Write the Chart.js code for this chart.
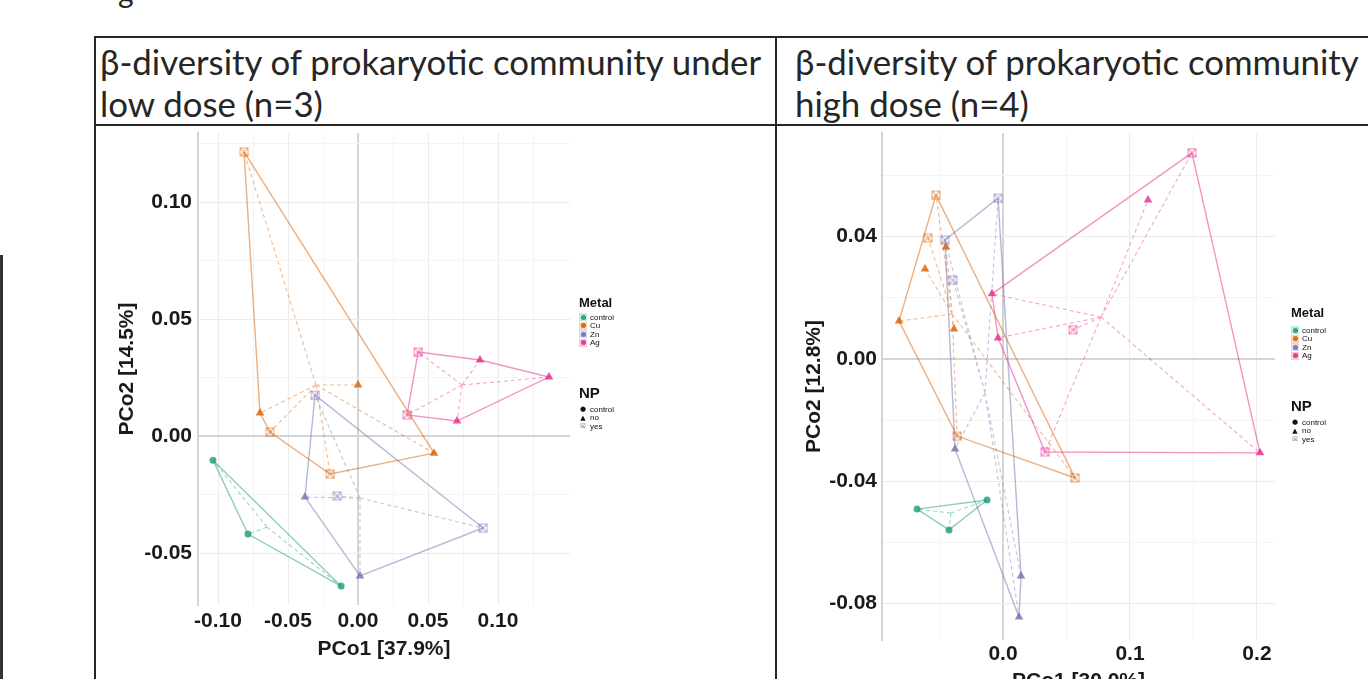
<!DOCTYPE html>
<html lang="en">
<head>
<meta charset="UTF-8">
<title>beta-diversity PCoA</title>
<script src="https://cdn.jsdelivr.net/npm/chart.js"></script>
<style>
  html, body { margin: 0; padding: 0; background: #fff; }
  body { width: 1368px; height: 679px; overflow: hidden; position: relative; }
  .abs { position: absolute; }
  .line { position: absolute; background: #262626; }
  .hd { position: absolute; font-family: Lato, "Open Sans", sans-serif; font-size: 34.8px; line-height: 42px; color: #262626; white-space: nowrap; }
  .leg { position: absolute; font-family: "Liberation Sans", Arial, sans-serif; color: #111; white-space: nowrap; }
  .leg .ttl { font-weight: bold; }
  .leg .row { display: flex; align-items: center; font-size: 8px; height: 8.5px; }
  .leg .key { width: 8px; height: 8px; margin-right: 3px; display: inline-flex; align-items: center; justify-content: center; }
  .leg .dot { width: 5px; height: 5px; border-radius: 50%; }
  .leg .sym { width: 8px; margin-right: 3px; font-size: 7px; text-align: center; font-family: "DejaVu Sans", sans-serif; }
</style>
</head>
<body>

<!-- bits of the page around the table -->
<div class="hd" style="left:118px; top:-30px; font-size:30px;">g</div>
<div class="line" style="left:0; top:255px; width:3px; height:430px; background:#333;"></div>

<!-- table lines -->
<div class="line" style="left:94px; top:36px; width:1280px; height:2px;"></div>
<div class="line" style="left:94px; top:124px; width:1280px; height:2px;"></div>
<div class="line" style="left:94px; top:36px; width:2px; height:660px;"></div>
<div class="line" style="left:775px; top:36px; width:2px; height:660px;"></div>

<div class="hd" style="left:100px; top:41px;">β-diversity of prokaryotic community under<br>low dose (n=3)</div>
<div class="hd" style="left:795px; top:41px;">β-diversity of prokaryotic community under<br>high dose (n=4)</div>

<div class="abs" style="left:100px; top:127px; width:675px; height:552px;"><canvas id="low" width="675" height="552"></canvas></div>
<div class="abs" style="left:777px; top:127px; width:591px; height:600px;"><canvas id="high" width="591" height="600"></canvas></div>

<div class="leg" id="legLow" style="left:579px; top:296px;"></div>
<div class="leg" id="legHigh" style="left:1291px; top:306px;"></div>

<script>
// ---- data ----
const metals = ['control', 'Cu', 'Zn', 'Ag'];
const npLevels = ['control', 'no', 'yes'];

// low dose (n=3)
const lowMetal = ['control','control','control','Cu','Cu','Cu','Cu','Cu','Cu','Zn','Zn','Zn','Zn','Zn','Ag','Ag','Ag','Ag','Ag'];
const lowNP    = ['control','control','control','no','no','no','yes','yes','yes','no','no','yes','yes','yes','no','no','no','yes','yes'];
const lowX = [-0.1036, -0.0786, -0.0121, -0.0700, 0.0000, 0.0543, -0.0814, -0.0629, -0.0200, -0.0379, 0.0014, -0.0307, -0.0150, 0.0893, 0.0871, 0.1364, 0.0707, 0.0429, 0.0350];
const lowY = [-0.0103, -0.0419, -0.0641, 0.0098, 0.0218, -0.0073, 0.1214, 0.0017, -0.0162, -0.0261, -0.0598, 0.0175, -0.0256, -0.0393, 0.0325, 0.0252, 0.0064, 0.0359, 0.0090];
const lowCentX = [-0.065, -0.030, 0.0014, 0.0743];
const lowCentY = [-0.0389, 0.0218, -0.0265, 0.0218];
const lowHulls = [[0, 1, 2], [6, 5, 8, 7, 3], [11, 13, 10, 9], [17, 14, 15, 16, 18]];
const lowXTicks = [-0.10, -0.075, -0.05, -0.025, 0, 0.025, 0.05, 0.075, 0.10, 0.125];
const lowXMajor = [-0.10, -0.05, 0, 0.05, 0.10];
const lowYTicks = [-0.05, -0.025, 0, 0.025, 0.05, 0.075, 0.10, 0.125];
const lowYMajor = [-0.05, 0, 0.05, 0.10];

// high dose (n=4)
const highMetal = ['control','control','control','Cu','Cu','Cu','Cu','Cu','Cu','Cu','Cu','Zn','Zn','Zn','Zn','Zn','Zn','Ag','Ag','Ag','Ag','Ag','Ag','Ag'];
const highNP    = ['control','control','control','no','no','no','no','yes','yes','yes','yes','no','no','no','yes','yes','yes','no','no','no','no','yes','yes','yes'];
const highX = [-0.0677, -0.0425, -0.0126, -0.0819, -0.0614, -0.0449, -0.0386, -0.0528, -0.0591, -0.0362, 0.0567, -0.0378, 0.0142, 0.0126, -0.0039, -0.0457, -0.0394, 0.1142, -0.0087, -0.0039, 0.2024, 0.1488, 0.0551, 0.0331];
const highY = [-0.0491, -0.0559, -0.0461, 0.0124, 0.0294, 0.0366, 0.0098, 0.0536, 0.0396, -0.0252, -0.0389, -0.0294, -0.0710, -0.0844, 0.0526, 0.0389, 0.0258, 0.0520, 0.0213, 0.0069, -0.0307, 0.0674, 0.0095, -0.0304];
const highCentX = [-0.041, -0.040, -0.0142, 0.0772];
const highCentY = [-0.0504, 0.0147, -0.0111, 0.0137];
const highHulls = [[0, 1, 2], [7, 10, 9, 3], [14, 12, 13, 11, 15], [21, 20, 23, 19, 18]];
const highXTicks = [-0.05, 0, 0.05, 0.10, 0.15, 0.20];
const highXMajor = [0, 0.10, 0.20];
const highYTicks = [-0.08, -0.06, -0.04, -0.02, 0, 0.02, 0.04, 0.06];
const highYMajor = [-0.08, -0.04, 0, 0.04];

// ---- styling ----
const metalColors = ['#1B9E77', '#D95F02', '#7570B3', '#E7298A'];
function rgba(hex, a) {
  const n = parseInt(hex.slice(1), 16);
  return 'rgba(' + (n >> 16) + ',' + ((n >> 8) & 255) + ',' + (n & 255) + ',' + a + ')';
}
// square-with-cross marker used for NP = yes
function yesMarker(color, size) {
  const c = document.createElement('canvas');
  c.width = size; c.height = size;
  const g = c.getContext('2d');
  g.strokeStyle = rgba(color, 0.5);
  g.lineWidth = 1.1;
  g.strokeRect(1.5, 1.5, size - 3, size - 3);
  g.beginPath();
  g.moveTo(1.5, 1.5); g.lineTo(size - 1.5, size - 1.5);
  g.moveTo(size - 1.5, 1.5); g.lineTo(1.5, size - 1.5);
  g.stroke();
  return c;
}
const yesMarks = metalColors.map(c => yesMarker(c, 11));

const tickFont = { family: '"Liberation Sans", Arial, sans-serif', size: 21, weight: 'bold' };

function makeDatasets(xs, ys, metal, np, cx, cy, hulls) {
  const hullSets = [], spiderSets = [], pointSets = [];
  metals.forEach((m, k) => {
    const col = metalColors[k];
    const idx = metal.map((v, i) => v === m ? i : -1).filter(i => i >= 0);
    const hull = hulls[k].map(i => ({ x: xs[i], y: ys[i] }));
    hull.push(hull[0]);
    hullSets.push({
      data: hull, showLine: true, borderColor: rgba(col, 0.5), borderWidth: 1.4,
      pointRadius: 0, fill: false, tension: 0
    });
    const spider = [];
    idx.forEach(i => {
      spider.push({ x: cx[k], y: cy[k] }, { x: xs[i], y: ys[i] }, { x: null, y: null });
    });
    spiderSets.push({
      data: spider, showLine: true, borderColor: rgba(col, 0.42), borderWidth: 1.1,
      borderDash: [4, 3], pointRadius: 0, fill: false, spanGaps: false
    });
    pointSets.push({
      data: idx.map(i => ({ x: xs[i], y: ys[i] })),
      pointStyle: idx.map(i => np[i] === 'control' ? 'circle' : np[i] === 'no' ? 'triangle' : yesMarks[k]),
      pointRadius: idx.map(i => np[i] === 'control' ? 3.5 : 5),
      backgroundColor: rgba(col, 0.8),
      borderColor: rgba(col, 0.8),
      borderWidth: 0
    });
  });
  return hullSets.concat(spiderSets, pointSets);
}

function gridColor(ctx) {
  if (!ctx.tick) return 'rgba(0,0,0,0)';
  return ctx.tick.value === 0 ? '#d4d4d4' : (ctx.tick.major2 ? '#ebebeb' : '#f4f4f4');
}

function axis(opts) {
  return {
    type: 'linear', position: opts.pos, min: opts.min, max: opts.max,
    afterBuildTicks: s => { s.ticks = opts.ticks.map(v => ({ value: v, major2: opts.major.includes(v) })); },
    afterFit: s => {
      if (opts.pos === 'left') s.width = opts.size; else s.height = opts.size;
      // no extra room for overflowing labels, the plot box is fixed
      s.paddingTop = 0; s.paddingBottom = 0; s.paddingLeft = 0; s.paddingRight = 0;
    },
    ticks: {
      autoSkip: false, maxRotation: 0, font: tickFont, color: '#1a1a1a', padding: opts.pad,
      callback: v => opts.major.includes(v) ? v.toFixed(opts.dec) : ''
    },
    grid: {
      drawTicks: false,
      color: gridColor,
      lineWidth: ctx => ctx.tick && ctx.tick.value === 0 ? 2 : 1
    },
    border: opts.pos === 'left' ? { display: true, color: '#d4d4d4', width: 2 } : { display: false },
    title: { display: true, text: opts.title, font: tickFont, color: '#1a1a1a', padding: opts.tpad }
  };
}

function makeChart(id, ds, xAxis, yAxis, padding) {
  return new Chart(document.getElementById(id), {
    type: 'scatter',
    data: { datasets: ds },
    options: {
      responsive: false, animation: false,
      layout: { padding: padding },
      plugins: { legend: { display: false }, tooltip: { enabled: false } },
      scales: { x: xAxis, y: yAxis }
    }
  });
}

makeChart('low',
  makeDatasets(lowX, lowY, lowMetal, lowNP, lowCentX, lowCentY, lowHulls),
  axis({ pos: 'bottom', min: -0.1143, max: 0.1514, ticks: lowXTicks, major: lowXMajor, dec: 2, size: 74, pad: 4,
         title: 'PCo1 [37.9%]', tpad: { top: 0, bottom: 17 } }),
  axis({ pos: 'left', min: -0.0722, max: 0.1295, ticks: lowYTicks, major: lowYMajor, dec: 2, size: 98, pad: 6,
         title: 'PCo2 [14.5%]', tpad: { top: 15, bottom: 0 } }),
  { top: 6, right: 205, left: 0, bottom: 0 });

makeChart('high',
  makeDatasets(highX, highY, highMetal, highNP, highCentX, highCentY, highHulls),
  axis({ pos: 'bottom', min: -0.0953, max: 0.2142, ticks: highXTicks, major: highXMajor, dec: 1, size: 87, pad: 2,
         title: 'PCo1 [30.0%]', tpad: { top: 0, bottom: 33 } }),
  axis({ pos: 'left', min: -0.0919, max: 0.0739, ticks: highYTicks, major: highYMajor, dec: 2, size: 105, pad: 5,
         title: 'PCo2 [12.8%]', tpad: { top: 25, bottom: 0 } }),
  { top: 6, right: 93, left: 0, bottom: 0 });

// ---- legends ----
function buildLegend(id, gap1, gap2) {
  const el = document.getElementById(id);
  let h = '<div class="ttl" style="font-size:13px;line-height:14px;margin-bottom:' + gap1 + 'px">Metal</div>';
  metals.forEach((m, k) => {
    h += '<div class="row"><span class="key" style="background:' + rgba(metalColors[k], 0.25) + '">' +
         '<span class="dot" style="background:' + rgba(metalColors[k], 0.9) + '"></span></span>' + m + '</div>';
  });
  h += '<div class="ttl" style="font-size:15px;line-height:16px;margin-top:' + gap2 + 'px;margin-bottom:4px">NP</div>';
  const syms = ['●', '▲', '⊠'];
  npLevels.forEach((n, i) => {
    h += '<div class="row"><span class="sym" style="color:' + (i === 2 ? '#999' : '#111') + '">' + syms[i] + '</span>' + n + '</div>';
  });
  el.innerHTML = h;
}
buildLegend('legLow', 3, 38);
buildLegend('legHigh', 6, 38);
</script>
</body>
</html>
